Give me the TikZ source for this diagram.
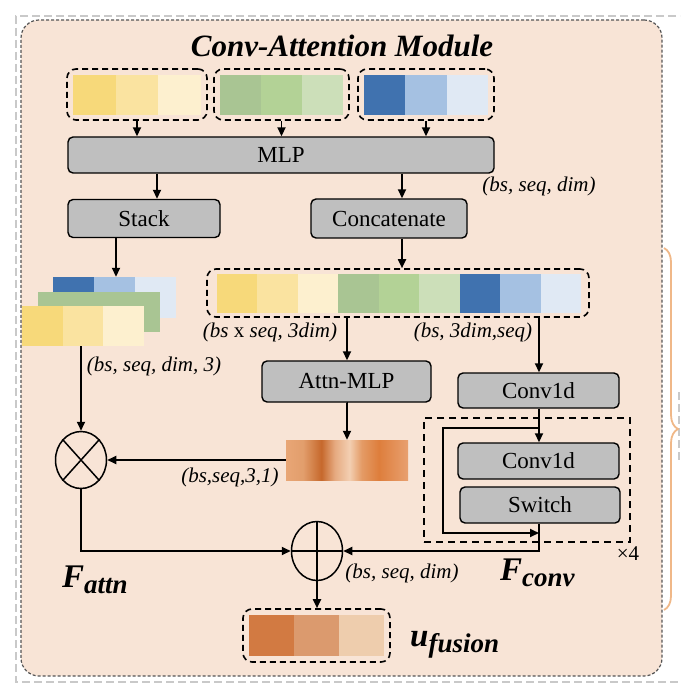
\documentclass[tikz,border=0pt]{standalone}
\usepackage{fontspec}
\setmainfont{Liberation Serif}
\usetikzlibrary{arrows.meta,calc,shapes.geometric,decorations.pathreplacing}

\definecolor{peach}{HTML}{F8E4D6}
\definecolor{boxgray}{HTML}{BFBFBF}
\definecolor{framegray}{HTML}{555555}
\definecolor{lightframe}{HTML}{C9C9C9}
\definecolor{yA}{HTML}{F7D97A}
\definecolor{yB}{HTML}{FAE3A0}
\definecolor{yC}{HTML}{FDF0CF}
\definecolor{gA}{HTML}{A9C593}
\definecolor{gB}{HTML}{B3D296}
\definecolor{gC}{HTML}{CCDFB9}
\definecolor{bA}{HTML}{4072AF}
\definecolor{bB}{HTML}{A5C1E2}
\definecolor{bC}{HTML}{E0E9F4}
\definecolor{uA}{HTML}{D27A42}
\definecolor{uB}{HTML}{DB9A6E}
\definecolor{uC}{HTML}{EECDAD}
\definecolor{braceor}{HTML}{F0B888}
\definecolor{sa}{HTML}{E8A676}
\definecolor{sb}{HTML}{E29E6C}
\definecolor{sc}{HTML}{C6682C}
\definecolor{sd}{HTML}{E6AA80}
\definecolor{se}{HTML}{F3CFB2}
\definecolor{sf}{HTML}{E49B66}
\definecolor{sg}{HTML}{DE7E3C}
\definecolor{sh}{HTML}{E8A070}

\pgfdeclarehorizontalshading{attnsh}{100bp}{color(0bp)=(sa); color(25bp)=(sa); color(32bp)=(sb); color(39.5bp)=(sc); color(45bp)=(sd); color(51bp)=(se); color(56bp)=(sf); color(63bp)=(sg); color(75bp)=(sh); color(100bp)=(sh)}

\newcommand\lblfont{\fontsize{23}{26}\selectfont}
\newcommand\italfont{\fontsize{21}{24}\selectfont\itshape}
\newcommand\titlefont{\fontsize{31}{34}\selectfont\bfseries\itshape}
\newcommand\symb[2]{{\fontsize{33}{35}\selectfont\bfseries\itshape #1}\raisebox{-6pt}{\fontsize{27}{29}\selectfont\bfseries\itshape #2}}
\newcommand\cellrow[7]{%
  \fill[#5] (#1,#2) rectangle ++(#3,#4);
  \fill[#6] ($(#1,#2)+(#3,0)$) rectangle ++(#3,#4);
  \fill[#7] ($(#1,#2)+(2*#3,0)$) rectangle ++(#3,#4);}

\begin{document}
\begin{tikzpicture}[x=1pt,y=-1pt,
  gbox/.style={draw=black, line width=1.4pt, fill=boxgray, rounded corners=5pt, inner sep=0pt, font=\lblfont},
  dbox/.style={draw=black, line width=1.6pt, dash pattern=on 6pt off 4pt, rounded corners=9pt, inner sep=0pt},
  arr/.style={line width=1.8pt, -{Triangle[length=9pt,width=8pt]}},
  opcirc/.style={draw, ellipse, line width=1.5pt, inner sep=0pt, minimum width=51pt, minimum height=57pt},
  lab/.style={font=\italfont, inner sep=0pt},
  symlab/.style={inner sep=0pt, anchor=base west},
  plain/.style={inner sep=0pt, minimum width=#1},
]
\useasboundingbox (0,0) rectangle (680,692);
\clip (0,0) rectangle (680,692);

% outer light frame
\draw[lightframe, line width=1.5pt, dash pattern=on 8pt off 4pt] (700,16) -- (16,16) -- (16,682) -- (700,682);
\draw[lightframe, line width=1.5pt, dash pattern=on 8pt off 4pt] (679,392) -- (679,462);

% module frame
\node[draw=framegray, fill=peach, line width=1.2pt, dash pattern=on 3pt off 2pt, rounded corners=18pt,
      minimum width=641pt, minimum height=656pt, inner sep=0pt] (frame) at (341.5,348) {};

% brace
\draw[braceor, line width=1.8pt, decorate, decoration={brace, amplitude=14pt}] (664,248) -- (664,610);

% title
\node[font=\titlefont] (title) at (342,46) {Conv-Attention Module};

% input strips
\cellrow{73}{75}{42.7}{40}{yA}{yB}{yC}
\cellrow{220}{75}{41}{40}{gA}{gB}{gC}
\cellrow{364}{75}{41.3}{40}{bA}{bB}{bC}
\node[dbox, minimum width=140pt, minimum height=51pt] (in1) at (137,94.5) {};
\node[dbox, minimum width=135pt, minimum height=51pt] (in2) at (281.5,94.5) {};
\node[dbox, minimum width=136pt, minimum height=51pt] (in3) at (426,94.5) {};

% MLP
\node[gbox, minimum width=426pt, minimum height=36pt] (mlp) at (281,155) {MLP};
\node[lab] (l1) at (539,186) {(bs, seq, dim)};
\draw[arr] (in1.south) -- (in1.south |- mlp.north);
\draw[arr] (in2.south) -- (in2.south |- mlp.north);
\draw[arr] (in3.south) -- (in3.south |- mlp.north);

\node[gbox, minimum width=152pt, minimum height=38pt] (stack) at (144,218.5) {Stack};
\node[gbox, minimum width=156pt, minimum height=39pt] (concat) at (389,218.5) {Concatenate};
\coordinate (xs) at (157,0);
\coordinate (xc) at (402,0);
\draw[arr] (xs |- mlp.south) -- (xs |- stack.north);
\draw[arr] (xc |- mlp.south) -- (xc |- concat.north);

% stacked layers
\node[plain=123pt, minimum height=41pt] (layb) at (114.5,297.5) {};
\cellrow{53}{277}{41}{41}{bA}{bB}{bC}
\node[plain=122pt, minimum height=40pt] (layg) at (99,312) {};
\cellrow{38}{292}{40.7}{40}{gA}{gA}{gA}
\node[plain=122pt, minimum height=40pt] (layy) at (83,326) {};
\cellrow{22}{306}{40.7}{40}{yA}{yB}{yC}
\coordinate (xst) at (116,0);
\draw[arr] (xst |- stack.south) -- (xst |- layb.north);
\node[lab] (l2) at (154,366) {(bs, seq, dim, 3)};

% concatenated strip
\fill[yA] (217,274) rectangle ++(40.44,39);
\fill[yB] (257.44,274) rectangle ++(40.44,39);
\fill[yC] (297.88,274) rectangle ++(40.44,39);
\fill[gA] (338.32,274) rectangle ++(40.44,39);
\fill[gB] (378.76,274) rectangle ++(40.44,39);
\fill[gC] (419.2,274) rectangle ++(40.44,39);
\fill[bA] (459.64,274) rectangle ++(40.44,39);
\fill[bB] (500.08,274) rectangle ++(40.44,39);
\fill[bC] (540.52,274) rectangle ++(40.48,39);
\node[dbox, minimum width=382pt, minimum height=48pt] (cbox) at (398,293) {};
\draw[arr] (xc |- concat.south) -- (xc |- cbox.north);
\node[lab] (l3) at (270,332) {(bs {\upshape x} seq, 3dim)};
\node[lab] (l4) at (473,332) {(bs, 3dim,seq)};

% attention branch
\node[gbox, minimum width=169pt, minimum height=41pt] (attn) at (346.5,381.5) {Attn-MLP};
\coordinate (xa) at (347,0);
\draw[arr] (xa |- cbox.south) -- (xa |- attn.north);
\node[draw=none, shading=attnsh, minimum width=122pt, minimum height=40pt, inner sep=0pt] (grad) at (347,460) {};
\draw[arr] (attn.south) -- (attn.south -| grad.north) -- (grad.north);
\node[lab] (l5) at (230,477) {(bs,seq,3,1)};

\node[opcirc] (ot) at (81,460) {};
\draw[line width=1.5pt] (ot.north east) -- (ot.south west) (ot.north west) -- (ot.south east);
\draw[arr] (layy.south -| ot.north) -- (ot.north);
\draw[arr] (grad.west) -- (ot.east);

% conv branch
\node[gbox, minimum width=161pt, minimum height=35pt] (conv1) at (538.5,390.5) {Conv1d};
\coordinate (xv) at (539,0);
\draw[arr] (xv |- cbox.south) -- (xv |- conv1.north);
\node[dbox, dash pattern=on 7pt off 5pt, rounded corners=0pt, minimum width=206pt, minimum height=124pt] (rep) at (527,480) {};
\node[gbox, minimum width=161pt, minimum height=36pt] (conv2) at (538.5,461) {Conv1d};
\node[gbox, minimum width=160pt, minimum height=36pt] (switch) at (540,505) {Switch};
\draw[arr] (xv |- conv1.south) -- (xv |- conv2.north);
\coordinate (lp1) at (539,428);
\coordinate (lp2) at (443,428);
\coordinate (lp3) at (443,533);
\coordinate (lp4) at (539,533);
\draw[arr] (lp1) -- (lp2) -- (lp3) -- (lp4);
\node[inner sep=0pt, font=\fontsize{21}{24}\selectfont] (x4) at (628,554) {×4};

% fusion
\node[opcirc, minimum height=59pt] (op) at (317,551) {};
\draw[line width=1.5pt] (op.north) -- (op.south) (op.west) -- (op.east);
\draw[arr] (xv |- switch.south) |- (op.east);
\draw[arr] (ot.south) |- (op.west);
\node[lab] (l6) at (402,573) {(bs, seq, dim)};
\node[symlab] (fconv) at (500,580) {\symb{F}{conv}};
\node[symlab] (fattn) at (62,587) {\symb{F}{attn}};

\cellrow{249}{615}{45}{41}{uA}{uB}{uC}
\node[dbox, minimum width=147pt, minimum height=53pt] (ufus) at (316.5,635.5) {};
\draw[arr] (op.south) -- (op.south |- ufus.north);
\node[symlab] (ulab) at (410,646) {\symb{u}{fusion}};
\end{tikzpicture}
\end{document}
